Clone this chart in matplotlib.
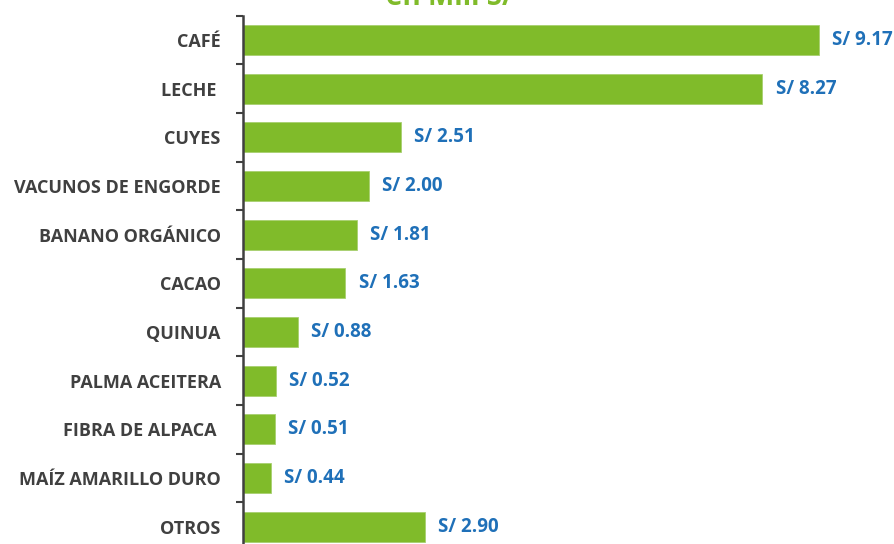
import numpy as np
import matplotlib.pyplot as plt

# data
categories = ["CAFÉ", "LECHE ", "CUYES", "VACUNOS DE ENGORDE", "BANANO ORGÁNICO", "CACAO",
              "QUINUA", "PALMA ACEITERA", "FIBRA DE ALPACA ", "MAÍZ AMARILLO DURO", "OTROS"]
values = [9.17, 8.27, 2.51, 2.00, 1.81, 1.63, 0.88, 0.52, 0.51, 0.44, 2.90]
title_text = "en Mill S/"

GREEN = "#80BB2A"
BLUE = "#1F70B8"
DARK = "#404040"

plt.rcParams['font.family'] = ['Open Sans', 'DejaVu Sans']

fig = plt.figure(figsize=(8.95, 5.44), dpi=100)
ax = fig.add_axes([243 / 895, -7 / 544, 1 - 243 / 895 - 24 / 895, 0.984])

y = np.arange(len(categories))
ax.barh(y, values, height=0.62, color=GREEN, edgecolor='#A8D070', linewidth=0.6)

ax.set_ylim(len(categories) - 0.5, -0.5)
# 576 px for the CAFÉ bar in the reference
ax.set_xlim(0, 9.17 / 576 * ax.get_position().width * 895)

# value labels
for yi, v in zip(y, values):
    ax.text(v + 0.21, yi, f"S/ {v:.2f}", va='center', ha='left', color=BLUE,
            fontsize=13.5, fontweight='bold', clip_on=False)

# category labels
ax.set_yticks(y)
ax.set_yticklabels(categories, fontsize=13, fontweight='bold', color=DARK)
ax.tick_params(axis='y', which='major', length=0, pad=16)
ax.set_yticks(np.arange(-0.5, len(categories), 1), minor=True)
ax.tick_params(axis='y', which='minor', length=5, width=1.5, color=DARK, direction='out')

ax.set_xticks([])
for s in ['top', 'right', 'bottom']:
    ax.spines[s].set_visible(False)
ax.spines['left'].set_color(DARK)
ax.spines['left'].set_linewidth(1.8)

# title (cut at top of the canvas)
fig.text(450 / 895, 1 - 5 / 544, title_text, ha='center', va='baseline',
         color=GREEN, fontsize=20, fontweight='bold')

fig.savefig('out.png', dpi=100)
